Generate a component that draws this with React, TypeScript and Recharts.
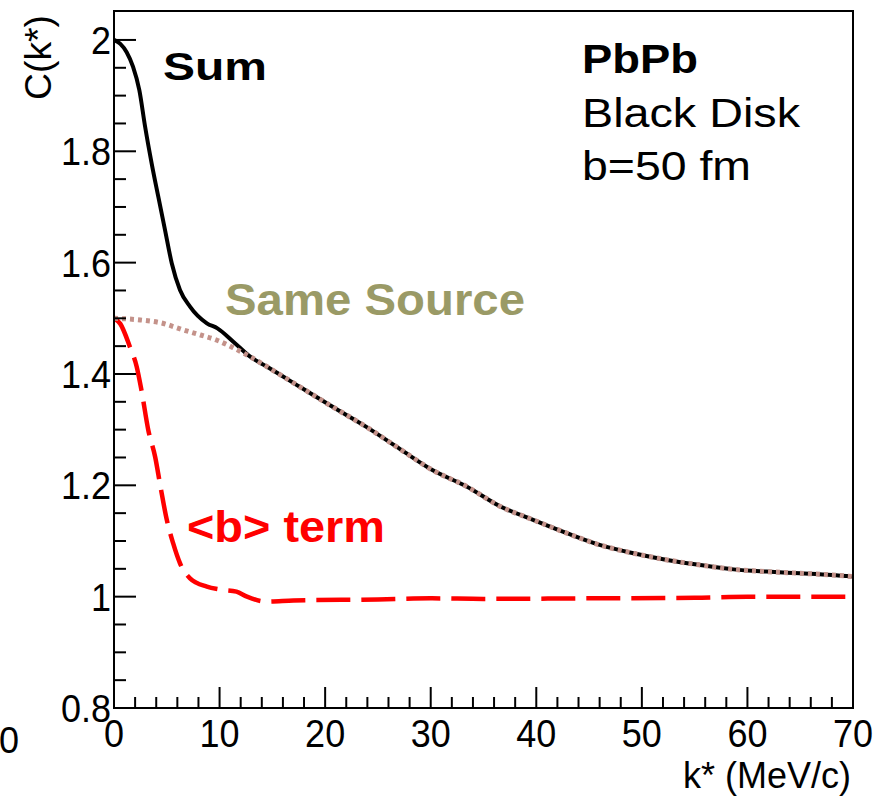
import { LineChart, Line, XAxis, YAxis, ReferenceArea } from 'recharts';

// Sum (black solid)
const sumK = [0, 0.6, 1.2, 1.8, 2.4, 2.94, 3.57, 4.2, 4.83, 5.47, 6.25, 7.2, 8.8, 9.8, 11.3, 12.9, 14.5, 17.6, 20.7, 23.9, 27.1, 30.2, 33.4, 36.6, 39.7, 42.9, 46.0, 49.2, 52.4, 55.5, 58.7, 61.8, 65.0, 68.0, 70];
const sumC = [2.0, 1.993, 1.978, 1.952, 1.91, 1.845, 1.778, 1.718, 1.659, 1.599, 1.551, 1.521, 1.491, 1.482, 1.458, 1.431, 1.413, 1.377, 1.341, 1.305, 1.265, 1.227, 1.198, 1.162, 1.138, 1.114, 1.093, 1.078, 1.066, 1.057, 1.049, 1.045, 1.042, 1.039, 1.036];

// Same Source (brown dotted)
const sameK = [0, 2.5, 4.4, 6.6, 8.2, 9.7, 11.3, 12.9, 14.5, 17.6, 20.7, 23.9, 27.1, 30.2, 33.4, 36.6, 39.7, 42.9, 46.0, 49.2, 52.4, 55.5, 58.7, 61.8, 65.0, 68.0, 70];
const sameC = [1.5, 1.497, 1.492, 1.479, 1.47, 1.461, 1.447, 1.431, 1.413, 1.377, 1.341, 1.305, 1.265, 1.227, 1.198, 1.162, 1.138, 1.114, 1.093, 1.078, 1.066, 1.057, 1.049, 1.045, 1.042, 1.039, 1.036];

// <b> term (red dashed)
const bK = [0, 0.6, 1.5, 2.15, 2.6, 3.25, 3.9, 4.4, 5.0, 5.6, 6.25, 7.2, 8.8, 10.0, 11.6, 12.6, 14.5, 17, 25, 30, 35, 45, 55, 60, 70];
const bC = [1.5, 1.49, 1.449, 1.413, 1.371, 1.299, 1.251, 1.198, 1.138, 1.096, 1.06, 1.033, 1.018, 1.013, 1.009, 1.0, 0.991, 0.993, 0.995, 0.997, 0.996, 0.997, 0.998, 1.0, 1.0];

const xMajor = [0, 10, 20, 30, 40, 50, 60, 70];
const xTicks = [0, 2, 4, 6, 8, 10, 12, 14, 16, 18, 20, 22, 24, 26, 28, 30, 32, 34, 36, 38, 40, 42, 44, 46, 48, 50, 52, 54, 56, 58, 60, 62, 64, 66, 68, 70];
const yMajor = ['0.8', '1', '1.2', '1.4', '1.6', '1.8', '2'];
const yTicks = [0.8, 0.85, 0.9, 0.95, 1, 1.05, 1.1, 1.15, 1.2, 1.25, 1.3, 1.35, 1.4, 1.45, 1.5, 1.55, 1.6, 1.65, 1.7, 1.75, 1.8, 1.85, 1.9, 1.95, 2];

const sumData = sumK.map((k, i) => ({ k, c: sumC[i] }));
const sameData = sameK.map((k, i) => ({ k, c: sameC[i] }));
const bData = bK.map((k, i) => ({ k, c: bC[i] }));

const FONT = '"Liberation Sans", Arial, Helvetica, sans-serif';

const XTick = (props: any) => {
  const { x, y, payload } = props;
  const major = xMajor.includes(payload.value);
  return (
    <g>
      <line x1={x} x2={x} y1={y} y2={y - (major ? 21 : 11)} stroke="#000" strokeWidth={2} />
      {major && (
        <text x={x} y={y + 39} textAnchor="middle" fontSize={36} fontFamily={FONT} fill="#000"
          transform={`translate(0 ${-(y + 39) * 0.1}) scale(1 1.1)`}>
          {payload.value}
        </text>
      )}
    </g>
  );
};

const YTick = (props: any) => {
  const { x, y, payload } = props;
  const label = yMajor.find((l) => Math.abs(parseFloat(l) - payload.value) < 1e-6);
  return (
    <g>
      <line x1={x} x2={x + (label ? 22 : 12)} y1={y} y2={y} stroke="#000" strokeWidth={2} />
      {label && (
        <text x={x - 3} y={y + 14} textAnchor="end" fontSize={36} fontFamily={FONT} fill="#000"
          transform={`translate(0 ${-(y + 14) * 0.1}) scale(1 1.1)`}>
          {label}
        </text>
      )}
    </g>
  );
};

export default function App() {
  return (
    <div style={{ position: 'absolute', left: 0, top: 0, width: 893, height: 797, background: '#fff' }}>
      <LineChart width={893} height={797} margin={{ top: 11, right: 40, bottom: 0, left: 0 }}>
        <XAxis
          type="number"
          dataKey="k"
          domain={[0, 70]}
          ticks={xTicks}
          interval={0}
          height={89}
          tickSize={0}
          tickMargin={0}
          tickLine={false}
          axisLine={{ stroke: '#000', strokeWidth: 2 }}
          tick={XTick}
          allowDataOverflow
        />
        <YAxis
          type="number"
          dataKey="c"
          domain={[0.8, 2.052]}
          ticks={yTicks}
          interval={0}
          width={114}
          tickSize={0}
          tickMargin={0}
          tickLine={false}
          axisLine={{ stroke: '#000', strokeWidth: 2 }}
          tick={YTick}
          allowDataOverflow
        />
        <ReferenceArea x1={0} x2={70} y1={0.8} y2={2.052} fill="none" stroke="#000" strokeWidth={2} ifOverflow="visible" />
        <Line data={bData} dataKey="c" type="monotone" stroke="#ff0000" strokeWidth={4.5} strokeDasharray="34 11" dot={false} activeDot={false} isAnimationActive={false} />
        <Line data={sumData} dataKey="c" type="monotone" stroke="#000" strokeWidth={4} dot={false} activeDot={false} isAnimationActive={false} />
        <Line data={sameData} dataKey="c" type="monotone" stroke="#c4928a" strokeWidth={5} strokeDasharray="4 4" dot={false} activeDot={false} isAnimationActive={false} />
      </LineChart>
      <svg width={893} height={797} style={{ position: 'absolute', left: 0, top: 0, pointerEvents: 'none' }}>
        <g fontFamily={FONT}>
          <text x={163} y={80} fontSize={39} fontWeight="bold" textLength={104} lengthAdjust="spacingAndGlyphs">Sum</text>
          <text x={582} y={73} fontSize={41} fontWeight="bold" textLength={116} lengthAdjust="spacingAndGlyphs">PbPb</text>
          <text x={582} y={127} fontSize={41} textLength={218} lengthAdjust="spacingAndGlyphs">Black Disk</text>
          <text x={582} y={180} fontSize={41} textLength={169} lengthAdjust="spacingAndGlyphs">b=50 fm</text>
          <text x={225} y={315} fontSize={45} fontWeight="bold" fill="#9a9a66" textLength={300} lengthAdjust="spacingAndGlyphs">Same Source</text>
          <text x={187} y={542} fontSize={44} fontWeight="bold" fill="#ff0000" textLength={198} lengthAdjust="spacingAndGlyphs">&lt;b&gt; term</text>
          <text transform="translate(51,100) rotate(-90)" fontSize={36} textLength={85} lengthAdjust="spacingAndGlyphs">C(k*)</text>
          <text x={851} y={788} fontSize={36} textAnchor="end">k* (MeV/c)</text>
          <text x={-1} y={753} fontSize={36}>0</text>
        </g>
      </svg>
    </div>
  );
}
